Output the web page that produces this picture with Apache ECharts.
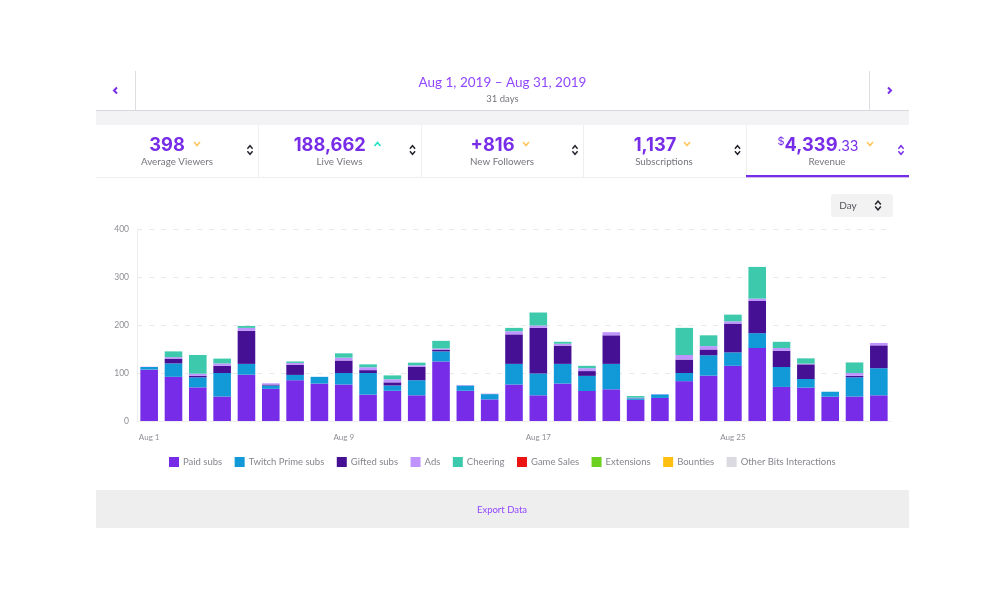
<!DOCTYPE html>
<html><head><meta charset="utf-8">
<style>html,body{margin:0;padding:0;background:#fff}#c{width:1005px;height:600px}</style>
<script src="https://cdn.jsdelivr.net/npm/echarts@6/dist/echarts.min.js"></script>
</head><body><div id="c"></div>
<script>
const days = ["Aug 1","Aug 2","Aug 3","Aug 4","Aug 5","Aug 6","Aug 7","Aug 8","Aug 9","Aug 10","Aug 11","Aug 12","Aug 13","Aug 14","Aug 15","Aug 16","Aug 17","Aug 18","Aug 19","Aug 20","Aug 21","Aug 22","Aug 23","Aug 24","Aug 25","Aug 26","Aug 27","Aug 28","Aug 29","Aug 30","Aug 31"];
const paidSubs  = [107,92,70,51,96.5,67,85,78,76,55,63,53.5,124,63,45,76,53.5,78,62.5,66,44,48,83,94.5,115,152,71,69.5,50.7,51,53.5];
const primeSubs = [5.5,28,21,49,22.5,7,11,14,24,45,11,31.5,21,11,11,43,45.5,41,31.5,53,3,7.5,17,42.5,28,31,41.5,18,10.3,40,56.5];
const giftedSubs= [0,10,3,15,69,2,21,0,26,6,6.5,27.5,3.6,0,0,61.5,95,38,10,59.5,0.5,0,28,12,60,67,34,30.5,0,3,47.6];
const adsRev    = [0.5,3,4.6,5,6,2.5,4,0,6,6,6.5,3.5,2.4,1,1,6.5,5,4,6,6.5,1,0.5,9.5,7,4.6,5,5.5,1.5,0,6,5];
const cheering  = [0,12,39,10,4,0,3,0,9,6,8,5.5,16,0,0,7,27,4,5,0,3.5,0,56.5,22.5,14,66,13,11,0,22,0];
const gameSales = [], extensions = [], bounties = [], otherBits = [];
const seriesNames = ["Paid subs","Twitch Prime subs","Gifted subs","Ads","Cheering","Game Sales","Extensions","Bounties","Other Bits Interactions"];
const seriesData = [paidSubs,primeSubs,giftedSubs,adsRev,cheering,gameSales,extensions,bounties,otherBits];
const seriesColors = ["#772ce8","#1299d8","#451093","#bf94ff","#3dc9ab","#ec1313","#6cd020","#ffbf10","#dadae0"];
const yTicks = [0,100,200,300,400];

const PURPLE="#772ce8", F="Inter, 'Noto Sans', sans-serif", L="Lato, 'Noto Sans', sans-serif", GREY="#75757e";
const g=[];
const rect=(x,y,w,h,fill,r)=>g.push({type:'rect',silent:true,shape:{x,y,width:w,height:h,r:r||0},style:{fill},z:1});
const text=(x,y,t,size,fill,weight,align,fam)=>g.push({type:'text',silent:true,x,y,style:{text:t,font:`${weight||400} ${size}px ${fam||L}`,fill,align:align||'center',verticalAlign:'middle'},z:3});
const line=(pts,stroke,w)=>g.push({type:'polyline',silent:true,shape:{points:pts},style:{stroke,lineWidth:w||1.5,fill:null},z:3});
const chevUp=(x,y,c,s=3,w=1.5)=>line([[x-s,y+s*.7],[x,y-s*.5],[x+s,y+s*.7]],c,w);
const chevDn=(x,y,c,s=3,w=1.5)=>line([[x-s,y-s*.7],[x,y+s*.5],[x+s,y-s*.7]],c,w);
const sortIcon=(x,y,c)=>{chevUp(x,y-3,c,2.6,1.4);chevDn(x,y+3,c,2.6,1.4);};

// header
rect(135,71,1,39,"#dedee2"); rect(869,71,1,39,"#dedee2");
rect(96,110,813,1,"#d8d8dc"); rect(96,111,813,14,"#f3f3f5");
text(502.5,83,"Aug 1, 2019 – Aug 31, 2019",13.5,"#9147ff");
text(502.5,98.5,"31 days",9.5,GREY);
line([[117,87.5],[114,90.5],[117,93.5]],PURPLE,2);
line([[888,87.5],[891,90.5],[888,93.5]],PURPLE,2);
// tabs
rect(96,177,813,1,"#eeeeef");
[258,421,583].forEach(x=>rect(x,125,1,52,"#eeeeef")); rect(746,125,1,52,"#eeeeef");
rect(746,175,163,2.2,PURPLE);
const tabs=[[167,"398","Average Viewers",177],[329.7,"188,662","Live Views",339.5],[492.5,"+816","New Followers",502],[655,"1,137","Subscriptions",664]];
tabs.forEach(t=>{text(t[0],145.5,t[1],18.3,PURPLE,700,'center',F);text(t[3],161.5,t[2],9.8,GREY);});
chevDn(197,144,"#ffc65c",3,1.6); chevUp(377.5,144,"#1fe0c4",3,1.6); chevDn(526,144,"#ffc65c",3,1.6); chevDn(687,144,"#ffc65c",3,1.6); chevDn(870,144,"#ffc65c",3,1.6);
sortIcon(250,150,"#22222a"); sortIcon(412.5,150,"#22222a"); sortIcon(575,150,"#22222a"); sortIcon(737.5,150,"#22222a"); sortIcon(901,150,PURPLE);
g.push({type:'text',silent:true,x:818,y:145.5,z:3,style:{text:"{a|$}{b|4,339}{c|.33}",align:'center',verticalAlign:'middle',rich:{
  a:{font:`400 11px ${F}`,fill:PURPLE,verticalAlign:'top',padding:[0,0,6,0]},b:{font:`700 18.3px ${F}`,fill:PURPLE},c:{font:`400 14px ${F}`,fill:PURPLE,padding:[3,0,0,0]}}}});
text(827,161.5,"Revenue",9.8,GREY);
// select
rect(831,194,62,23,"#f2f2f3",3);
text(848,205.5,"Day",10,"#55555d");
chevUp(878,202.5,"#22222a",2.8,1.5); chevDn(878,208.5,"#22222a",2.8,1.5);
// export
rect(96,490,813,38,"#eeeeef");
text(502,509.5,"Export Data",9.5,"#9147ff");

const chart=echarts.init(document.getElementById('c'),null,{renderer:'canvas'});
chart.setOption({
  animation:false,
  grid:{left:137,right:114,top:229,bottom:179},
  color:seriesColors,
  legend:{show:true,left:169,top:457,padding:0,itemWidth:10,itemHeight:10,itemGap:12.5,icon:'rect',
    textStyle:{color:"#85858e",fontFamily:L,fontSize:9.5,padding:[0,0,0,-1]},data:seriesNames},
  xAxis:{type:'category',data:days,
    axisLine:{lineStyle:{color:"#eeeeef"}},axisTick:{show:false},
    axisLabel:{interval:7,color:"#8d8d95",fontFamily:L,fontSize:8,margin:12}},
  yAxis:{type:'value',min:yTicks[0],max:yTicks[yTicks.length-1],interval:100,
    axisLine:{show:true,lineStyle:{color:"#eeeeef"}},axisTick:{show:false},
    axisLabel:{color:"#8d8d95",fontFamily:L,fontSize:8.5,margin:8},
    splitLine:{lineStyle:{color:"#e9e9eb",type:[5,7]}}},
  graphic:{elements:g},
  series:seriesNames.map((n,i)=>({name:n,type:'bar',stack:'rev',barWidth:17.6,data:seriesData[i],
    itemStyle:{color:seriesColors[i]}}))
});
</script></body></html>
